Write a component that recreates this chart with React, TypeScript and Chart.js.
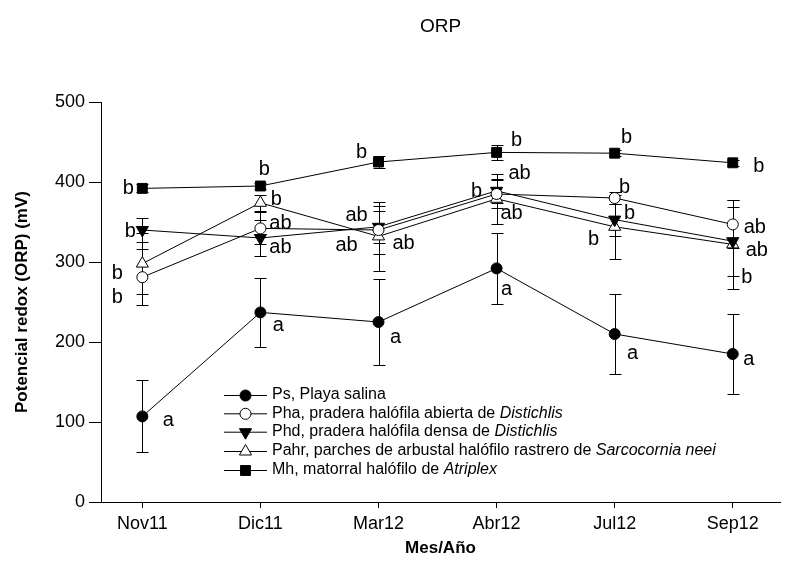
import React, { useEffect, useRef } from "react";
import { Chart, registerables } from "chart.js";

Chart.register(...registerables);

// ---------- data ----------
const categories = ["Nov11", "Dic11", "Mar12", "Abr12", "Jul12", "Sep12"];
const yTickValues = [0, 100, 200, 300, 400, 500];

const psValues = [107, 237, 225, 292, 210, 185];
const psErrors = [45, 43, 54, 44, 50, 50];
const psLetters = ["a", "a", "a", "a", "a", "a"];

const phaValues = [281, 342, 340, 385, 380, 347];
const phaErrors = [35, 20, 30, 17, 8, 30];
const phaLetters = ["b", "ab", "ab", "b", "b", "ab"];

const phdValues = [340, 330, 344, 389, 353, 326];
const phdErrors = [15, 22, 20, 15, 20, 43];
const phdLetters = ["b", "ab", "ab", "ab", "b", "ab"];

const pahrValues = [298, 374, 332, 379, 344, 322];
const pahrErrors = [38, 10, 43, 31, 40, 56];
const pahrLetters = ["b", "b", "ab", "ab", "b", "b"];

const mhValues = [392, 395, 425, 437, 436, 424];
const mhErrors = [5, 4, 7, 9, 4, 4];
const mhLetters = ["b", "b", "b", "b", "b", "b"];

// letter offsets (px) relative to each point
const psLetterOffsets = [[26, 4], [18, 13], [17, 15], [10, 21], [18, 19], [16, 5]];
const phaLetterOffsets = [[-25, 20], [20, -5], [25, 13], [-20, -3], [10, -11], [22, 3]];
const phdLetterOffsets = [[-12, 1], [20, 9], [-22, -11], [23, -17], [15, -6], [24, 9]];
const pahrLetterOffsets = [[-25, 10], [16, -3], [-32, 9], [15, 15], [-21, 13], [14, 33]];
const mhLetterOffsets = [[-14, 0], [4, -17], [-17, -10], [20, -12], [12, -16], [26, 4]];

type Seg = { t: string; i?: boolean };
const legendPs: Seg[] = [{ t: "Ps, Playa salina" }];
const legendPha: Seg[] = [{ t: "Pha, pradera halófila abierta de " }, { t: "Distichlis", i: true }];
const legendPhd: Seg[] = [{ t: "Phd, pradera halófila densa de " }, { t: "Distichlis", i: true }];
const legendPahr: Seg[] = [
  { t: "Pahr, parches de arbustal halófilo rastrero de " },
  { t: "Sarcocornia neei", i: true },
];
const legendMh: Seg[] = [{ t: "Mh, matorral halófilo de " }, { t: "Atriplex", i: true }];

const FONT = "'Liberation Sans', Arial, Helvetica, sans-serif";

type Series = {
  values: number[];
  errors: number[];
  letters: string[];
  offsets: number[][];
  legend: Seg[];
  style: string;
  rotation: number;
  fill: string;
  radius: number;
};

const series: Series[] = [
  { values: psValues, errors: psErrors, letters: psLetters, offsets: psLetterOffsets, legend: legendPs, style: "circle", rotation: 0, fill: "#000", radius: 5.5 },
  { values: phaValues, errors: phaErrors, letters: phaLetters, offsets: phaLetterOffsets, legend: legendPha, style: "circle", rotation: 0, fill: "#fff", radius: 5.5 },
  { values: phdValues, errors: phdErrors, letters: phdLetters, offsets: phdLetterOffsets, legend: legendPhd, style: "triangle", rotation: 180, fill: "#000", radius: 7 },
  { values: pahrValues, errors: pahrErrors, letters: pahrLetters, offsets: pahrLetterOffsets, legend: legendPahr, style: "triangle", rotation: 0, fill: "#fff", radius: 7 },
  { values: mhValues, errors: mhErrors, letters: mhLetters, offsets: mhLetterOffsets, legend: legendMh, style: "rect", rotation: 0, fill: "#000", radius: 7 },
];

function drawMarker(ctx: CanvasRenderingContext2D, s: Series, x: number, y: number) {
  ctx.beginPath();
  const r = s.radius;
  if (s.style === "circle") {
    ctx.arc(x, y, r, 0, Math.PI * 2);
  } else if (s.style === "triangle") {
    let rad = (s.rotation * Math.PI) / 180;
    ctx.moveTo(x + Math.sin(rad) * r, y - Math.cos(rad) * r);
    rad += (2 * Math.PI) / 3;
    ctx.lineTo(x + Math.sin(rad) * r, y - Math.cos(rad) * r);
    rad += (2 * Math.PI) / 3;
    ctx.lineTo(x + Math.sin(rad) * r, y - Math.cos(rad) * r);
    ctx.closePath();
  } else {
    const sz = r * Math.SQRT1_2;
    ctx.rect(x - sz, y - sz, 2 * sz, 2 * sz);
  }
  ctx.fillStyle = s.fill;
  ctx.fill();
  ctx.strokeStyle = "#000";
  ctx.lineWidth = 1;
  ctx.stroke();
}

const overlayPlugin = {
  id: "overlay",
  beforeDatasetsDraw(chart: any) {
    const ctx: CanvasRenderingContext2D = chart.ctx;
    const xs = chart.scales.x;
    const ys = chart.scales.y;
    ctx.save();
    ctx.strokeStyle = "#000";
    ctx.lineWidth = 1;
    series.forEach((s) => {
      s.values.forEach((v, i) => {
        const px = Math.round(xs.getPixelForValue(i)) + 0.5;
        const top = Math.round(ys.getPixelForValue(v + s.errors[i])) + 0.5;
        const bot = Math.round(ys.getPixelForValue(v - s.errors[i])) + 0.5;
        ctx.beginPath();
        ctx.moveTo(px, top);
        ctx.lineTo(px, bot);
        ctx.moveTo(px - 6, top);
        ctx.lineTo(px + 6, top);
        ctx.moveTo(px - 6, bot);
        ctx.lineTo(px + 6, bot);
        ctx.stroke();
      });
    });
    ctx.restore();
  },
  afterDraw(chart: any) {
    const ctx: CanvasRenderingContext2D = chart.ctx;
    const xs = chart.scales.x;
    const ys = chart.scales.y;
    const area = chart.chartArea;
    ctx.save();
    ctx.fillStyle = "#000";

    // title
    ctx.font = `19px ${FONT}`;
    ctx.textAlign = "center";
    ctx.textBaseline = "middle";
    ctx.fillText("ORP", (area.left + area.right) / 2, 27);

    // x axis title
    ctx.font = `bold 17px ${FONT}`;
    ctx.fillText("Mes/Año", (area.left + area.right) / 2, 548);

    // y axis title
    ctx.save();
    ctx.translate(22, (area.top + area.bottom) / 2);
    ctx.rotate(-Math.PI / 2);
    ctx.fillText("Potencial redox (ORP) (mV)", 0, 0);
    ctx.restore();

    // significance letters
    ctx.font = `20px ${FONT}`;
    ctx.textAlign = "center";
    ctx.textBaseline = "middle";
    series.forEach((s) => {
      s.values.forEach((v, i) => {
        const px = xs.getPixelForValue(i);
        const py = ys.getPixelForValue(v);
        const [dx, dy] = s.offsets[i];
        ctx.fillText(s.letters[i], px + dx, py + dy);
      });
    });

    // legend
    const rowY = [395, 413.3, 431.7, 451, 470];
    series.forEach((s, k) => {
      const y = rowY[k];
      ctx.beginPath();
      ctx.strokeStyle = "#000";
      ctx.lineWidth = 1;
      ctx.moveTo(224, y + 0.5);
      ctx.lineTo(267, y + 0.5);
      ctx.stroke();
      drawMarker(ctx, s, 245.5, y + 0.5);
      let x = 272;
      ctx.textAlign = "left";
      ctx.textBaseline = "middle";
      ctx.fillStyle = "#000";
      s.legend.forEach((seg) => {
        ctx.font = `${seg.i ? "italic " : ""}16px ${FONT}`;
        ctx.fillText(seg.t, x, y);
        x += ctx.measureText(seg.t).width;
      });
    });
    ctx.restore();
  },
};

export default function App() {
  const canvasRef = useRef<HTMLCanvasElement | null>(null);

  useEffect(() => {
    if (!canvasRef.current) return;
    const chart = new Chart(canvasRef.current, {
      type: "line",
      data: {
        datasets: series.map((s) => ({
          data: s.values.map((v, i) => ({ x: i, y: v })),
          borderColor: "#000",
          borderWidth: 1,
          pointStyle: s.style as any,
          pointRotation: s.rotation,
          pointRadius: s.radius,
          pointBackgroundColor: s.fill,
          pointBorderColor: "#000",
          pointBorderWidth: 1,
          fill: false,
          tension: 0,
        })),
      },
      options: {
        animation: false,
        responsive: true,
        maintainAspectRatio: false,
        layout: { padding: { left: 0, top: 102, right: 10, bottom: 0 } },
        plugins: {
          legend: { display: false },
          title: { display: false },
          tooltip: { enabled: false },
        },
        scales: {
          x: {
            type: "linear",
            min: -0.35,
            max: 5.4,
            afterBuildTicks: (scale: any) => {
              scale.ticks = categories.map((_, i) => ({ value: i }));
            },
            afterFit: (scale: any) => {
              scale.height = 66;
            },
            grid: { drawOnChartArea: false, drawTicks: true, tickLength: 6, color: "#000" },
            border: { display: true, color: "#000", width: 1 },
            ticks: {
              color: "#000",
              font: { family: FONT, size: 18 },
              padding: 5,
              maxRotation: 0,
              autoSkip: false,
              callback: (v: any) => categories[Number(v)] ?? "",
            },
          },
          y: {
            type: "linear",
            min: 0,
            max: 500,
            afterBuildTicks: (scale: any) => {
              scale.ticks = yTickValues.map((v) => ({ value: v }));
            },
            afterFit: (scale: any) => {
              scale.width = 101;
            },
            grid: { drawOnChartArea: false, drawTicks: true, tickLength: 12, color: "#000" },
            border: { display: true, color: "#000", width: 1 },
            ticks: {
              color: "#000",
              font: { family: FONT, size: 18 },
              padding: 4,
            },
          },
        },
      },
      plugins: [overlayPlugin],
    });
    return () => chart.destroy();
  }, []);

  return (
    <div style={{ position: "fixed", left: 0, top: 0, width: 790, height: 568, background: "#fff" }}>
      <canvas ref={canvasRef} />
    </div>
  );
}
